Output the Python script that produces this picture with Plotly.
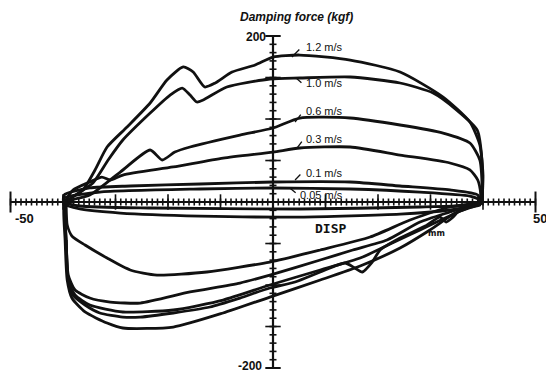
import numpy as np
import plotly.graph_objects as go

# ---- data (displacement mm, damping force kgf) ----
speeds = ["1.2 m/s", "1.0 m/s", "0.6 m/s", "0.3 m/s", "0.1 m/s", "0.05 m/s"]

up_12_x = [-39.0, -36.2, -33.9, -31.6, -27.8, -23.4, -20.2, -17.1, -15.2, -13.0, -11.0, -7.8, -3.4, 0.0, 5.1, 14.7, 24.2, 32.4, 37.5, 39.4, 40.0, 39.8]
up_12_y = [2.4, 14.5, 38.6, 66.3, 90.4, 119.3, 147.0, 162.7, 156.6, 138.6, 143.4, 156.6, 165.1, 174.7, 177.1, 171.1, 156.6, 126.5, 96.4, 68.7, 32.5, -1.2]
lo_12_x = [39.8, 38.5, 34.7, 29.9, 24.2, 16.6, 9.0, -0.6, -9.5, -19.0, -28.6, -31.6, -35.8, -38.3, -39.2, -39.6, -39.8, -39.0]
lo_12_y = [-1.2, -4.8, -13.3, -33.7, -55.4, -77.1, -94.0, -114.5, -133.7, -150.6, -151.8, -145.8, -132.5, -115.7, -94.0, -45.8, -3.6, 2.4]
# second recorded cycle of the 1.2 m/s rebound stroke
lo_12b_x = [39.6, 36.6, 32.8, 28.0, 22.3, 16.6, 9.0, -0.6, -9.5, -19.0, -28.6, -34.9, -37.7, -39.0, -39.4]
lo_12b_y = [-1.2, -8.4, -19.3, -33.7, -50.6, -67.5, -81.9, -100.0, -118.1, -130.1, -132.5, -124.1, -112.0, -94.0, -45.8]

up_10_x = [-39.0, -34.3, -31.4, -28.6, -23.4, -19.6, -17.3, -15.8, -14.5, -13.3, -8.8, -0.6, 5.1, 14.7, 24.2, 30.5, 35.0, 38.9, 39.8, 39.8]
up_10_y = [2.4, 22.9, 50.6, 74.7, 107.2, 128.9, 137.3, 128.9, 120.5, 122.9, 138.6, 148.2, 149.4, 150.6, 143.4, 131.3, 110.8, 86.7, 50.6, -1.2]
lo_10_x = [39.6, 37.5, 35.6, 34.1, 33.0, 31.8, 29.0, 24.2, 20.4, 18.9, 17.0, 15.6, 13.7, 9.0, 4.2, -0.6, -6.3, -12.0, -19.0, -25.3, -28.6, -33.0, -35.8, -38.1, -39.0, -39.4, -39.6, -39.0]
lo_10_y = [-1.2, -6.0, -9.6, -19.3, -24.1, -18.1, -28.9, -43.4, -57.8, -72.3, -84.3, -79.5, -73.5, -84.3, -96.4, -103.6, -115.7, -126.5, -133.7, -138.6, -138.6, -133.7, -124.1, -112.0, -94.0, -45.8, -3.6, 2.4]

up_06_x = [-39.0, -34.9, -29.1, -23.4, -21.1, -18.7, -15.8, -6.3, 0.0, 5.1, 14.7, 24.2, 32.4, 37.5, 39.4, 39.8, 39.4]
up_06_y = [1.2, 8.4, 36.1, 62.7, 50.6, 60.2, 66.3, 80.7, 89.2, 101.2, 101.2, 92.8, 83.1, 71.1, 50.6, 20.5, 0.0]
lo_06_x = [39.4, 36.6, 33.7, 28.0, 21.7, 15.2, 9.0, -0.6, -6.3, -15.8, -25.3, -31.0, -34.9, -37.7, -39.0, -39.4, -39.6, -39.0]
lo_06_y = [0.0, -6.0, -12.0, -24.1, -45.8, -57.8, -69.9, -88.0, -97.6, -108.4, -121.7, -120.5, -115.7, -106.0, -88.0, -45.8, -3.6, 1.2]

up_03_x = [-39.4, -38.1, -34.9, -32.6, -31.0, -28.6, -19.0, -9.5, 0.0, 5.1, 14.7, 24.2, 33.7, 37.5, 39.0, 39.6, 39.6]
up_03_y = [2.4, 14.5, 24.1, 30.1, 26.5, 32.5, 42.2, 53.0, 60.2, 65.1, 66.3, 56.6, 47.0, 38.6, 26.5, 8.4, -1.2]
lo_03_x = [39.6, 33.7, 26.1, 18.5, 9.0, -0.6, -12.6, -22.1, -27.2, -31.6, -35.8, -38.3, -39.2, -39.4, -39.4]
lo_03_y = [-1.2, -6.0, -21.7, -42.2, -57.8, -72.3, -84.3, -88.0, -81.9, -67.5, -51.8, -41.0, -27.7, -3.6, 2.4]

up_01_x = [-39.8, -34.9, -27.2, -13.9, 0.0, 14.7, 24.2, 33.7, 39.0, 39.4]
up_01_y = [8.4, 16.9, 19.3, 21.7, 24.1, 24.1, 19.3, 14.5, 8.4, -1.2]
lo_01_x = [39.4, 33.7, 24.2, 5.1, -13.9, -29.1, -36.8, -39.8, -39.8]
lo_01_y = [-3.6, -9.6, -14.5, -18.1, -16.9, -13.3, -8.4, -2.4, 8.4]

up_005_x = [-39.8, -33.0, -13.9, 0.0, 14.7, 28.0, 37.5, 39.4]
up_005_y = [4.8, 12.0, 15.7, 16.9, 15.7, 12.0, 7.2, 2.4]
lo_005_x = [39.4, 28.0, 5.1, -23.4, -36.8, -39.8, -39.8]
lo_005_y = [-2.4, -6.0, -8.4, -7.2, -4.8, 0.0, 4.8]

# label positions (text start) and leader lines (head on curve, tail at label)
label_x = [5.9, 5.9, 5.9, 5.9, 5.9, 4.8]
label_y = [187.0, 143.4, 109.6, 75.9, 34.9, 8.4]
lead_head_x = [3.6, 4.4, 4.2, 4.6, 4.2, 3.2]
lead_head_y = [174.7, 149.4, 96.4, 65.1, 26.5, 16.9]
lead_tail_x = [5.3, 5.7, 5.5, 5.7, 5.5, 4.6]
lead_tail_y = [185.5, 142.2, 107.2, 74.7, 34.9, 9.6]

x_minor = list(range(-50, 51, 1))
x_major = list(range(-40, 41, 10))
x_ends = [-50, 50]
y_minor = list(range(-200, 201, 10))
y_major = list(range(-150, 151, 50))
y_ends = [-200, 200]

INK = "#111111"
FONT = "Liberation Sans, Arial, sans-serif"

fig = go.Figure()

# axes cross
fig.add_trace(go.Scatter(x=[-50, 50], y=[0, 0], mode="lines", line=dict(color=INK, width=2.2), hoverinfo="skip"))
fig.add_trace(go.Scatter(x=[0, 0], y=[-200, 200], mode="lines", line=dict(color=INK, width=2.2), hoverinfo="skip"))
fig.add_trace(go.Scatter(x=x_minor, y=[0] * len(x_minor), mode="markers",
                         marker=dict(symbol="line-ns", size=5, line=dict(color=INK, width=1.6)), hoverinfo="skip"))
fig.add_trace(go.Scatter(x=x_major, y=[0] * len(x_major), mode="markers",
                         marker=dict(symbol="line-ns", size=11, line=dict(color=INK, width=1.6)), hoverinfo="skip"))
fig.add_trace(go.Scatter(x=x_ends, y=[0, 0], mode="markers",
                         marker=dict(symbol="line-ns", size=15, line=dict(color=INK, width=2)), hoverinfo="skip"))
fig.add_trace(go.Scatter(x=[0] * len(y_minor), y=y_minor, mode="markers",
                         marker=dict(symbol="line-ew", size=5, line=dict(color=INK, width=1.6)), hoverinfo="skip"))
fig.add_trace(go.Scatter(x=[0] * len(y_major), y=y_major, mode="markers",
                         marker=dict(symbol="line-ew", size=11, line=dict(color=INK, width=1.6)), hoverinfo="skip"))
fig.add_trace(go.Scatter(x=[0, 0], y=y_ends, mode="markers",
                         marker=dict(symbol="line-ew", size=11, line=dict(color=INK, width=2)), hoverinfo="skip"))

loops = [
    (up_12_x, up_12_y, lo_12_x, lo_12_y),
    (up_10_x, up_10_y, lo_10_x, lo_10_y),
    (up_06_x, up_06_y, lo_06_x, lo_06_y),
    (up_03_x, up_03_y, lo_03_x, lo_03_y),
    (up_01_x, up_01_y, lo_01_x, lo_01_y),
    (up_005_x, up_005_y, lo_005_x, lo_005_y),
]
for name, (ux, uy, lx, ly) in zip(speeds, loops):
    fig.add_trace(go.Scatter(x=ux + lx, y=uy + ly, mode="lines", name=name,
                             line=dict(color=INK, width=2.8, shape="spline", smoothing=0.6)))
fig.add_trace(go.Scatter(x=lo_12b_x, y=lo_12b_y, mode="lines", name="1.2 m/s (cycle 2)",
                         line=dict(color=INK, width=2.8, shape="spline", smoothing=0.6)))

ann = []
for i, s in enumerate(speeds):
    ann.append(dict(x=label_x[i], y=label_y[i], xref="x", yref="y", text=s, showarrow=False,
                    xanchor="left", yanchor="middle", font=dict(family=FONT, size=11, color=INK)))
    ann.append(dict(x=lead_head_x[i], y=lead_head_y[i], xref="x", yref="y", text="",
                    ax=lead_tail_x[i], ay=lead_tail_y[i], axref="x", ayref="y",
                    showarrow=True, arrowhead=0, arrowwidth=1.3, arrowcolor=INK))

ann += [
    dict(x=4.4, y=223, xref="x", yref="y", text="<b><i>Damping force (kgf)</i></b>", showarrow=False,
         font=dict(family=FONT, size=12, color=INK)),
    dict(x=-1.0, y=199, xref="x", yref="y", text="<b>200</b>", showarrow=False, xanchor="right",
         font=dict(family=FONT, size=12, color=INK)),
    dict(x=-1.8, y=-197, xref="x", yref="y", text="<b>-200</b>", showarrow=False, xanchor="right",
         font=dict(family=FONT, size=12, color=INK)),
    dict(x=-47.4, y=-19.5, xref="x", yref="y", text="<b>-50</b>", showarrow=False,
         font=dict(family=FONT, size=13, color=INK)),
    dict(x=50.9, y=-19.5, xref="x", yref="y", text="<b>50</b>", showarrow=False,
         font=dict(family=FONT, size=13, color=INK)),
    dict(x=10.9, y=-32.5, xref="x", yref="y", text="<b>DISP</b>", showarrow=False,
         font=dict(family="DejaVu Sans Mono, monospace", size=13, color=INK)),
    dict(x=31.2, y=-37.5, xref="x", yref="y", text="<b>mm</b>", showarrow=False,
         font=dict(family="DejaVu Sans Condensed, DejaVu Sans, sans-serif", size=9, color=INK)),
]

fig.update_layout(
    width=546, height=372,
    margin=dict(l=0, r=0, t=0, b=0),
    paper_bgcolor="white", plot_bgcolor="white",
    showlegend=False,
    xaxis=dict(range=[-52.0, 52.0], visible=False, fixedrange=True),
    yaxis=dict(range=[-204.8, 243.4], visible=False, fixedrange=True),
    annotations=ann,
)

fig.write_html("out.html", config={"displayModeBar": False})
